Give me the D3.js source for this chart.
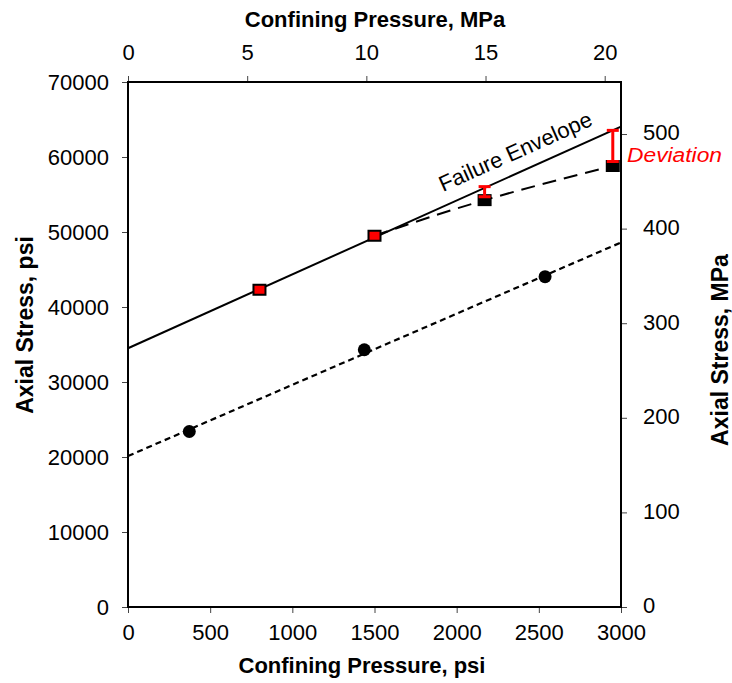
<!DOCTYPE html>
<html><head><meta charset="utf-8">
<script src="https://cdn.jsdelivr.net/npm/d3@7"></script>
<style>body{margin:0;background:#fff}svg{display:block}text{font-family:"Liberation Sans",Arial,sans-serif}</style>
</head><body><svg id="c" width="732" height="683"></svg>
<script>
// Data (psi)
const failurePts = [[800,42300],[1500,49500]];
const deviatedPts = [[2170,54250],[2950,58800]];
const circlePts = [[373,23400],[1438,34300],[2538,44050]];
const envelopeLine = [[0,34500],[3000,64050]];
const lowerLine = [[0,20130],[3000,48600]];
const dashedCurve = [[1500,49500],[2170,54250],[2950,58800]];
const deviations = [[2170,54700,56050],[2950,59400,63550]];
const xTicks = [0,500,1000,1500,2000,2500,3000];
const yTicks = [0,10000,20000,30000,40000,50000,60000,70000];
const xTopTicks = [0,5,10,15,20];
const yRightTicks = [0,100,200,300,400,500];

const svg = d3.select("#c");
const L=128,R=621,T=82,B=607;
const x = d3.scaleLinear([0,3000],[L,R]);
const xTop = d3.scaleLinear([0,3000/145.038],[L,R]);
const y = d3.scaleLinear([0,70000],[B,T]);
const yR = d3.scaleLinear([0,555],[B,T]);

function styleAxis(g){
  g.select(".domain").remove();
  g.selectAll(".tick line").attr("stroke","#444").attr("stroke-width",1);
  g.selectAll(".tick text").attr("font-size",22).attr("fill","#000").attr("font-family","'Liberation Sans',Arial,sans-serif");
}
svg.append("g").attr("transform",`translate(${L},0)`)
  .call(d3.axisLeft(y).tickValues(yTicks).tickSize(6).tickPadding(13).tickFormat(d3.format("d"))).call(styleAxis);
svg.append("g").attr("transform",`translate(0,${B})`)
  .call(d3.axisBottom(x).tickValues(xTicks).tickSize(6).tickPadding(11).tickFormat(d3.format("d"))).call(styleAxis);
svg.append("g").attr("transform",`translate(0,${T})`)
  .call(d3.axisTop(xTop).tickValues(xTopTicks).tickSize(6).tickPadding(16).tickFormat(d3.format("d"))).call(styleAxis);
svg.append("g").attr("transform",`translate(${R},0)`)
  .call(d3.axisRight(yR).tickValues(yRightTicks).tickSize(6).tickPadding(16).tickFormat(d3.format("d"))).call(styleAxis)
  .selectAll(".tick text").attr("dy","0.27em");

// frame
svg.append("rect").attr("x",L).attr("y",T).attr("width",R-L).attr("height",B-T)
  .attr("fill","none").attr("stroke","#000").attr("stroke-width",2);

const line = d3.line().x(d=>x(d[0])).y(d=>y(d[1]));
svg.append("path").datum(envelopeLine).attr("d",line).attr("fill","none").attr("stroke","#000").attr("stroke-width",2);
svg.append("path").datum(lowerLine).attr("d",line).attr("fill","none").attr("stroke","#000").attr("stroke-width",2.2).attr("stroke-dasharray","6,4");
svg.append("path").datum(dashedCurve).attr("d",line.curve(d3.curveNatural)).attr("fill","none").attr("stroke","#000").attr("stroke-width",2).attr("stroke-dasharray","14,8");

// markers
svg.selectAll(".c").data(circlePts).join("circle").attr("cx",d=>x(d[0])).attr("cy",d=>y(d[1])).attr("r",6.5).attr("fill","#000");
svg.selectAll(".sq").data(failurePts).join("rect").attr("x",d=>x(d[0])-6).attr("y",d=>y(d[1])-5)
  .attr("width",12).attr("height",10).attr("fill","#f00").attr("stroke","#000").attr("stroke-width",2);
svg.selectAll(".sq2").data(deviatedPts).join("rect").attr("x",d=>x(d[0])-6).attr("y",d=>y(d[1])-5)
  .attr("width",12).attr("height",10).attr("fill","#000").attr("stroke","#000").attr("stroke-width",2);

// deviation bars
const dv = svg.append("g").attr("stroke","#f00").attr("stroke-width",3);
deviations.forEach(d=>{
  const cx=x(d[0]);
  dv.append("line").attr("x1",cx).attr("x2",cx).attr("y1",y(d[1])).attr("y2",y(d[2]));
  dv.append("line").attr("x1",cx-6).attr("x2",cx+6).attr("y1",y(d[1])).attr("y2",y(d[1]));
  dv.append("line").attr("x1",cx-6).attr("x2",cx+6).attr("y1",y(d[2])).attr("y2",y(d[2]));
});

// annotations
svg.append("text").attr("transform","translate(443,192) rotate(-24)").attr("font-size",22).text("Failure Envelope");
svg.append("text").attr("x",627).attr("y",162).attr("font-size",20).attr("font-style","italic").attr("fill","#f00")
  .attr("textLength",95).attr("lengthAdjust","spacingAndGlyphs").text("Deviation");

// titles
svg.append("text").attr("x",375).attr("y",27).attr("text-anchor","middle").attr("font-size",22).attr("font-weight","bold").text("Confining Pressure, MPa");
svg.append("text").attr("x",362).attr("y",673).attr("text-anchor","middle").attr("font-size",22).attr("font-weight","bold").text("Confining Pressure, psi");
svg.append("text").attr("transform","translate(33,325) rotate(-90)").attr("text-anchor","middle").attr("font-size",23).attr("font-weight","bold").text("Axial Stress, psi");
svg.append("text").attr("transform","translate(728,350) rotate(-90)").attr("text-anchor","middle").attr("font-size",23).attr("font-weight","bold").text("Axial Stress, MPa");
</script></body></html>
